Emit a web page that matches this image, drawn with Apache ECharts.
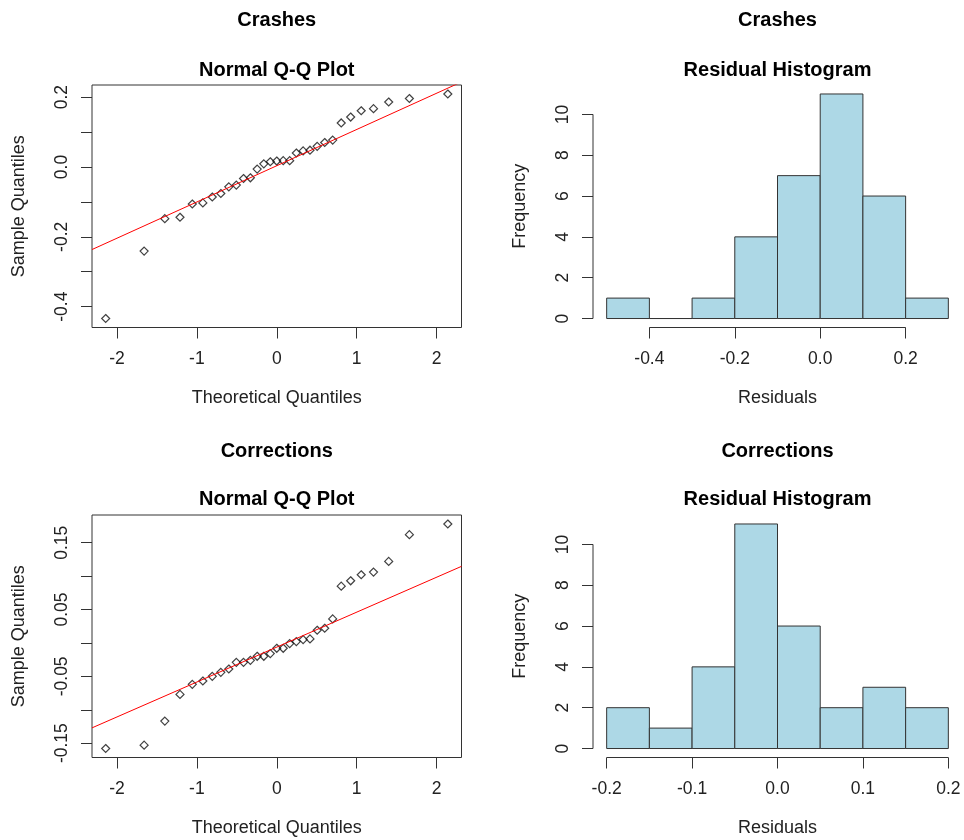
<!DOCTYPE html>
<html>
<head>
<meta charset="utf-8">
<script src="https://cdn.jsdelivr.net/npm/echarts@6/dist/echarts.min.js"></script>
<style>
  html, body { margin: 0; padding: 0; background: #ffffff; }
  #chart { width: 964px; height: 840px; }
</style>
</head>
<body>
<div id="chart"></div>
<script>
// Normal scores for 31 ordered residuals
const theoreticalQ = [
  -2.141, -1.660, -1.401, -1.211, -1.057, -0.925, -0.807, -0.700, -0.600, -0.506,
  -0.416, -0.330, -0.245, -0.162, -0.081, 0.000, 0.081, 0.162, 0.245, 0.330,
  0.416, 0.506, 0.600, 0.700, 0.807, 0.925, 1.057, 1.211, 1.401, 1.660, 2.141
];

// Sorted model residuals
const crashResiduals = [
  -0.434, -0.241, -0.148, -0.144, -0.106, -0.103, -0.086, -0.076, -0.057, -0.052,
  -0.033, -0.031, -0.006, 0.009, 0.015, 0.017, 0.018, 0.018, 0.040, 0.046,
  0.048, 0.059, 0.070, 0.077, 0.126, 0.143, 0.161, 0.167, 0.186, 0.196, 0.209
];
const correctionResiduals = [
  -0.158, -0.153, -0.117, -0.077, -0.062, -0.057, -0.050, -0.044, -0.039, -0.029,
  -0.029, -0.026, -0.020, -0.020, -0.016, -0.008, -0.008, -0.001, 0.002, 0.005,
  0.006, 0.019, 0.022, 0.036, 0.085, 0.093, 0.102, 0.106, 0.122, 0.162, 0.178
];

// Histogram bins and counts
const crashBinEdges = [-0.5, -0.4, -0.3, -0.2, -0.1, 0.0, 0.1, 0.2, 0.3];
const crashCounts = [1, 0, 1, 4, 7, 11, 6, 1];
const corrBinEdges = [-0.2, -0.15, -0.1, -0.05, 0.0, 0.05, 0.1, 0.15, 0.2];
const corrCounts = [2, 1, 4, 11, 6, 2, 3, 2];

// Axis ticks and labels
const qqXTicks = [-2, -1, 0, 1, 2];
const crashQQYTicks = [-0.4, -0.3, -0.2, -0.1, 0.0, 0.1, 0.2];
const crashQQYLabels = [-0.4, -0.2, 0.0, 0.2];
const corrQQYTicks = [-0.15, -0.10, -0.05, 0.00, 0.05, 0.10, 0.15];
const corrQQYLabels = [-0.15, -0.05, 0.05, 0.15];
const crashHistXTicks = [-0.4, -0.2, 0.0, 0.2];
const corrHistXTicks = [-0.2, -0.1, 0.0, 0.1, 0.2];
const freqTicks = [0, 2, 4, 6, 8, 10];

const FONT = '"Liberation Sans", Arial, Helvetica, sans-serif';
const TEXT = '#222222';
const LINE = '#333333';

// Axis limits with 4% padding on each side
function padded(lo, hi) {
  const d = (hi - lo) * 0.04;
  return [lo - d, hi + d];
}
function extent(arr) { return [Math.min(...arr), Math.max(...arr)]; }

// Reference line through the first and third quartiles
function quartile(sorted, p) {
  const h = (sorted.length - 1) * p;
  const lo = Math.floor(h);
  return sorted[lo] + (h - lo) * (sorted[lo + 1] - sorted[lo]);
}
function qqLine(sample, xr) {
  const s = sample.slice().sort((a, b) => a - b);
  const y1 = quartile(s, 0.25), y3 = quartile(s, 0.75);
  const z = 0.6744898;
  const slope = (y3 - y1) / (2 * z);
  const icept = y1 + slope * z;
  return [[xr[0], icept + slope * xr[0]], [xr[1], icept + slope * xr[1]]];
}

const cells = [
  { left: 92,  top: 85,  width: 369.5, height: 242.5 },
  { left: 593, top: 85,  width: 369,   height: 242.5 },
  { left: 92,  top: 515, width: 369.5, height: 242.5 },
  { left: 593, top: 515, width: 369,   height: 242.5 }
];

const grids = cells.map((c, i) => ({
  left: c.left, top: c.top, width: c.width, height: c.height,
  show: i % 2 === 0,
  borderColor: LINE, borderWidth: 1, backgroundColor: 'transparent'
}));

function axis(gridIndex, dim, range, ticks, labels, fmt, name) {
  const isX = dim === 'x';
  return {
    gridIndex, type: 'value', min: range[0], max: range[1],
    position: isX ? 'bottom' : 'left',
    axisLine: { show: false, onZero: false },
    splitLine: { show: false },
    axisTick: { show: true, inside: false, length: 11, customValues: ticks,
                lineStyle: { color: LINE, width: 1 } },
    axisLabel: {
      customValues: labels, formatter: v => fmt(v),
      rotate: isX ? 0 : 90, margin: isX ? 23 : 21,
      fontSize: 17.5, fontFamily: FONT, color: TEXT
    },
    name, nameLocation: 'middle', nameGap: isX ? 61.5 : 64,
    nameTextStyle: { fontSize: 18, fontFamily: FONT, color: TEXT }
  };
}

const fmt0 = v => String(Math.round(v));
const fmt1 = v => (Math.abs(v) < 1e-9 ? 0 : v).toFixed(1);
const fmt2 = v => (Math.abs(v) < 1e-9 ? 0 : v).toFixed(2);

const qqX = padded(theoreticalQ[0], theoreticalQ[theoreticalQ.length - 1]);
const crashQQY = padded(...extent(crashResiduals));
const corrQQY = padded(...extent(correctionResiduals));
const crashHX = padded(crashBinEdges[0], crashBinEdges[crashBinEdges.length - 1]);
const corrHX = padded(corrBinEdges[0], corrBinEdges[corrBinEdges.length - 1]);
const crashHY = padded(0, Math.max(...crashCounts));
const corrHY = padded(0, Math.max(...corrCounts));

const xAxes = [
  axis(0, 'x', qqX, qqXTicks, qqXTicks, fmt0, 'Theoretical Quantiles'),
  axis(1, 'x', crashHX, crashHistXTicks, crashHistXTicks, fmt1, 'Residuals'),
  axis(2, 'x', qqX, qqXTicks, qqXTicks, fmt0, 'Theoretical Quantiles'),
  axis(3, 'x', corrHX, corrHistXTicks, corrHistXTicks, fmt1, 'Residuals')
];
const yAxes = [
  axis(0, 'y', crashQQY, crashQQYTicks, crashQQYLabels, fmt1, 'Sample Quantiles'),
  axis(1, 'y', crashHY, freqTicks, freqTicks, fmt0, 'Frequency'),
  axis(2, 'y', corrQQY, corrQQYTicks, corrQQYLabels, fmt2, 'Sample Quantiles'),
  axis(3, 'y', corrHY, freqTicks, freqTicks, fmt0, 'Frequency')
];

function qqSeries(idx, sample) {
  return [
    {
      type: 'scatter', xAxisIndex: idx, yAxisIndex: idx,
      data: theoreticalQ.map((q, i) => [q, sample[i]]),
      symbol: 'diamond', symbolSize: 8,
      itemStyle: { color: 'rgba(0,0,0,0)', borderColor: '#111', borderWidth: 1.2 },
      silent: true, z: 3
    },
    {
      type: 'line', xAxisIndex: idx, yAxisIndex: idx,
      data: qqLine(sample, qqX), symbol: 'none', clip: true,
      lineStyle: { color: '#ff0000', width: 1 }, silent: true, z: 4
    }
  ];
}

function histSeries(idx, edges, counts, xr, yr, xTicks) {
  const bins = counts.map((c, i) => [edges[i], edges[i + 1], c]);
  return [
    {
      type: 'custom', xAxisIndex: idx, yAxisIndex: idx,
      data: bins, encode: { x: [0, 1], y: 2 }, silent: true,
      renderItem: (params, api) => {
        const a = api.coord([api.value(0), api.value(2)]);
        const b = api.coord([api.value(1), 0]);
        return {
          type: 'rect',
          shape: { x: a[0], y: a[1], width: b[0] - a[0], height: b[1] - a[1] },
          style: { fill: '#add8e6', stroke: LINE, lineWidth: 1 }
        };
      }
    },
    // x axis line spanning the first to last tick
    {
      type: 'line', xAxisIndex: idx, yAxisIndex: idx, clip: false, silent: true,
      data: [[xTicks[0], yr[0]], [xTicks[xTicks.length - 1], yr[0]]],
      symbol: 'none', lineStyle: { color: LINE, width: 1 }
    },
    // y axis line spanning the first to last tick
    {
      type: 'line', xAxisIndex: idx, yAxisIndex: idx, clip: false, silent: true,
      data: [[xr[0], freqTicks[0]], [xr[0], freqTicks[freqTicks.length - 1]]],
      symbol: 'none', lineStyle: { color: LINE, width: 1 }
    }
  ];
}

const series = [].concat(
  qqSeries(0, crashResiduals),
  histSeries(1, crashBinEdges, crashCounts, crashHX, crashHY, crashHistXTicks),
  qqSeries(2, correctionResiduals),
  histSeries(3, corrBinEdges, corrCounts, corrHX, corrHY, corrHistXTicks)
);

function heading(text, x, y) {
  return {
    type: 'text', x, y, silent: true,
    style: { text, fill: '#000', align: 'center', verticalAlign: 'middle',
             font: 'bold 20px ' + FONT }
  };
}
const colL = cells[0].left + cells[0].width / 2;
const colR = cells[1].left + cells[1].width / 2;

const chart = echarts.init(document.getElementById('chart'), null, { renderer: 'canvas' });
chart.setOption({
  animation: false,
  backgroundColor: '#ffffff',
  grid: grids,
  xAxis: xAxes,
  yAxis: yAxes,
  series,
  graphic: [
    heading('Crashes', colL, 20.5),
    heading('Normal Q-Q Plot', colL, 70),
    heading('Crashes', colR, 20.5),
    heading('Residual Histogram', colR, 70),
    heading('Corrections', colL, 451),
    heading('Normal Q-Q Plot', colL, 499),
    heading('Corrections', colR, 451),
    heading('Residual Histogram', colR, 499)
  ]
});
</script>
</body>
</html>
